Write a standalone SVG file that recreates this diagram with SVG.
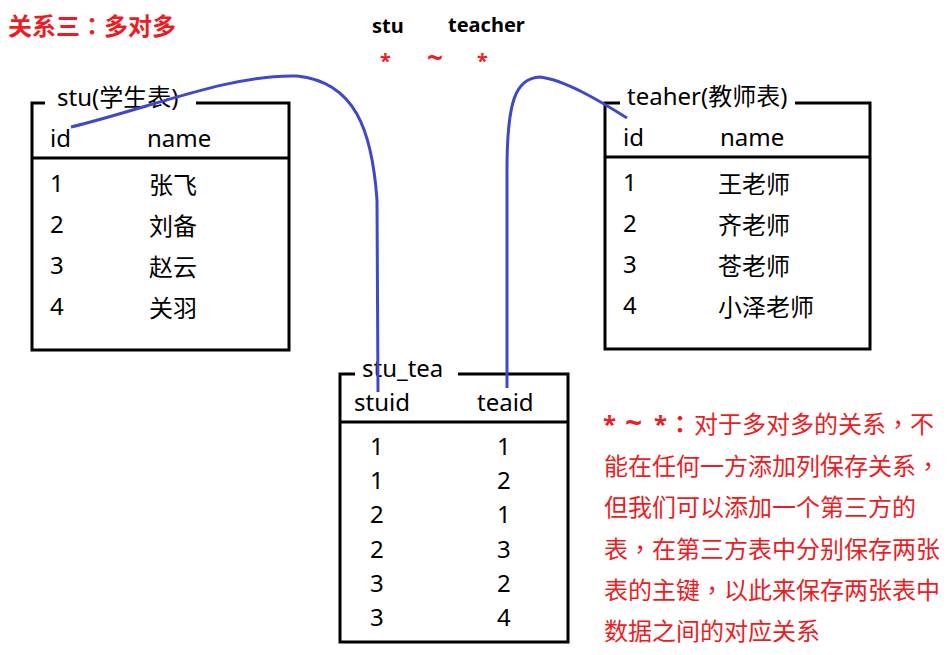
<svg xmlns="http://www.w3.org/2000/svg" width="949" height="655" viewBox="0 0 949 655">
<style>
text{font-family:"Noto Sans","Noto Sans CJK SC",sans-serif;fill:#000}
.t{font-size:24px}
.red{fill:#ed1c24;font-weight:bold}
.note{font-size:24px;fill:#ed1c24}
.hd{font-size:20px;font-weight:bold}
.p{font-family:"Noto Sans CJK TC",sans-serif}
.box{fill:none;stroke:#000;stroke-width:3}
.link{fill:none;stroke:#3f48cc;stroke-width:3;stroke-linecap:butt}
</style>
<rect width="949" height="655" fill="#fff"/>
<text class="red" x="8" y="35" style="font-size:24px">关系三<tspan class="p">：</tspan>多对多</text>
<text class="hd" x="372" y="33">stu</text>
<text class="hd" x="448" y="32">teacher</text>
<text class="red" y="68" style="font-size:20px"><tspan x="380">*</tspan><tspan x="427" style="font-size:28px">~</tspan><tspan x="477">*</tspan></text>

<g id="stu">
<path class="box" d="M45,103 H32 V350 H289 V103 H196"/>
<line class="box" x1="32" y1="158" x2="289" y2="158"/>
<text class="t" x="57" y="106">stu(学生表)</text>
<text class="t" x="50" y="147">id</text>
<text class="t" x="147" y="147">name</text>
<text class="t" x="50" y="192">1</text><text class="t" x="149" y="194">张飞</text>
<text class="t" x="50" y="233">2</text><text class="t" x="149" y="235">刘备</text>
<text class="t" x="50" y="274">3</text><text class="t" x="149" y="276">赵云</text>
<text class="t" x="50" y="315">4</text><text class="t" x="149" y="317">关羽</text>
</g>

<g id="teacher">
<path class="box" d="M620,103 H605 V349 H870 V103 H795"/>
<line class="box" x1="605" y1="157" x2="870" y2="157"/>
<text class="t" x="627" y="105">teaher(教师表)</text>
<text class="t" x="623" y="146">id</text>
<text class="t" x="720" y="146">name</text>
<text class="t" x="623" y="191">1</text><text class="t" x="718" y="193">王老师</text>
<text class="t" x="623" y="232">2</text><text class="t" x="718" y="234">齐老师</text>
<text class="t" x="623" y="273">3</text><text class="t" x="718" y="275">苍老师</text>
<text class="t" x="623" y="314">4</text><text class="t" x="718" y="316">小泽老师</text>
</g>

<g id="stu_tea">
<path class="box" d="M355,374 H340 V642 H568 V374 H458"/>
<line class="box" x1="340" y1="422" x2="568" y2="422"/>
<text class="t" x="362" y="377">stu_tea</text>
<text class="t" x="354" y="411">stuid</text>
<text class="t" x="477" y="411">teaid</text>
<text class="t" x="370" y="455">1</text><text class="t" x="497" y="455">1</text>
<text class="t" x="370" y="489">1</text><text class="t" x="497" y="489">2</text>
<text class="t" x="370" y="523">2</text><text class="t" x="497" y="523">1</text>
<text class="t" x="370" y="558">2</text><text class="t" x="497" y="558">3</text>
<text class="t" x="370" y="592">3</text><text class="t" x="497" y="592">2</text>
<text class="t" x="370" y="626">3</text><text class="t" x="497" y="626">4</text>
</g>

<g id="connectors">
<path class="link" d="M71,127 C150,108 230,74 297,76 C355,82 372,130 377,200 L378,392"/>
<path class="link" d="M627,118 C600,101 565,80 540,77 C516,78 507,100 507,170 L507,388"/>
</g>

<g id="note">
<text class="note"><tspan x="603" y="433" style="font-weight:bold">*</tspan><tspan x="625" y="433" style="font-weight:bold;font-size:30px">~</tspan><tspan x="654" y="433" style="font-weight:bold">*</tspan><tspan x="668" y="433" class="p" style="font-weight:bold">：</tspan><tspan x="694" y="433">对于多对多的关系<tspan class="p">，</tspan>不</tspan></text>
<text class="note" x="604" y="475">能在任何一方添加列保存关系<tspan class="p">，</tspan></text>
<text class="note" x="604" y="516">但我们可以添加一个第三方的</text>
<text class="note" x="604" y="558">表<tspan class="p">，</tspan>在第三方表中分别保存两张</text>
<text class="note" x="604" y="599">表的主键<tspan class="p">，</tspan>以此来保存两张表中</text>
<text class="note" x="604" y="640">数据之间的对应关系</text>
</g>
</svg>
